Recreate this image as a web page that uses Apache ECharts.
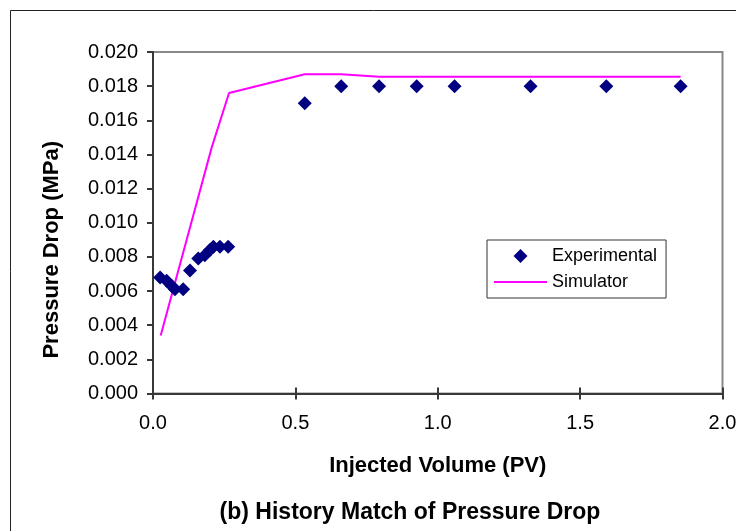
<!DOCTYPE html>
<html>
<head>
<meta charset="utf-8">
<script src="https://cdn.jsdelivr.net/npm/echarts@6/dist/echarts.min.js"></script>
<style>html,body{margin:0;padding:0;background:#fff}#c{width:736px;height:531px}</style>
</head>
<body>
<div id="c"></div>
<script>
// Data
const expX = [0.025, 0.048, 0.066, 0.077, 0.106, 0.130, 0.159, 0.182, 0.200, 0.212, 0.235, 0.264, 0.533, 0.661, 0.794, 0.926, 1.059, 1.326, 1.592, 1.853];
const expY = [0.0068, 0.0066, 0.0063, 0.0061, 0.0061, 0.0072, 0.0079, 0.0081, 0.0084, 0.0086, 0.0086, 0.0086, 0.0170, 0.0180, 0.0180, 0.0180, 0.0180, 0.0180, 0.0180, 0.0180];
const simX = [0.027, 0.206, 0.267, 0.533, 0.661, 0.794, 0.926, 1.059, 1.326, 1.592, 1.853];
const simY = [0.0034, 0.0144, 0.0176, 0.0187, 0.0187, 0.01855, 0.01855, 0.01855, 0.01855, 0.01855, 0.01855];
const xTicks = [0.0, 0.5, 1.0, 1.5, 2.0];
const yTicks = [0.000, 0.002, 0.004, 0.006, 0.008, 0.010, 0.012, 0.014, 0.016, 0.018, 0.020];
const seriesNames = ['Experimental', 'Simulator'];
const xTitle = 'Injected Volume (PV)';
const yTitle = 'Pressure Drop (MPa)';
const chartTitle = '(b) History Match of Pressure Drop';

const font = 'Arial, "Liberation Sans", sans-serif';
const chart = echarts.init(document.getElementById('c'), null, {renderer: 'canvas'});
const axisCol = '#383838';
chart.setOption({
  animation: false,
  backgroundColor: '#fff',
  title: {
    text: chartTitle,
    left: 405, top: 496, textAlign: 'center',
    textStyle: {fontFamily: font, fontWeight: 'bold', fontSize: 23, color: '#000'}
  },
  graphic: [{
    type: 'rect', silent: true, z: 0,
    shape: {x: 10.5, y: 10.5, width: 800, height: 600},
    style: {fill: null, stroke: '#222', lineWidth: 1}
  }],
  grid: {
    left: 153, right: 13.5, top: 52, bottom: 137.5,
    outerBoundsMode: 'none', containLabel: false,
    show: true, borderColor: '#888', borderWidth: 2, backgroundColor: 'transparent'
  },
  legend: {
    orient: 'vertical', left: 487, top: 240,
    padding: [7, 9, 7, 7], itemGap: 8,
    itemWidth: 53, itemHeight: 14, symbolKeepAspect: true,
    borderColor: '#333', borderWidth: 1, backgroundColor: '#fff',
    textStyle: {fontFamily: font, fontSize: 18, color: '#000'},
    data: [
      {name: seriesNames[0], icon: 'path://M0,7L7,0L14,7L7,14Z', itemStyle: {color: '#000080', opacity: 1}},
      {name: seriesNames[1], icon: 'path://M0,0H53V2H0Z', itemStyle: {color: '#ff00ff', opacity: 1}}
    ]
  },
  xAxis: [{
    type: 'value', min: xTicks[0], max: xTicks[xTicks.length - 1], interval: 0.5,
    name: xTitle, nameLocation: 'middle', nameGap: 61,
    nameTextStyle: {fontFamily: font, fontWeight: 'bold', fontSize: 22, color: '#000'},
    axisLine: {show: true, onZero: false, lineStyle: {color: axisCol, width: 2}},
    axisTick: {show: true, length: 6, lineStyle: {color: axisCol, width: 2}},
    axisLabel: {margin: 20, fontFamily: font, fontSize: 20, color: '#000', formatter: v => v.toFixed(1)},
    splitLine: {show: false}
  }, {
    type: 'value', min: xTicks[0], max: xTicks[xTicks.length - 1], interval: 0.5,
    position: 'bottom',
    axisLine: {show: false},
    axisTick: {show: true, inside: true, length: 6, lineStyle: {color: axisCol, width: 2}},
    axisLabel: {show: false},
    splitLine: {show: false}
  }],
  yAxis: {
    type: 'value', min: yTicks[0], max: yTicks[yTicks.length - 1], interval: 0.002,
    name: yTitle, nameLocation: 'middle', nameGap: 90, nameRotate: 90,
    nameTextStyle: {fontFamily: font, fontWeight: 'bold', fontSize: 22, color: '#000', padding: [0, 54, 0, 0]},
    axisLine: {show: true, onZero: false, lineStyle: {color: axisCol, width: 2}},
    axisTick: {show: true, length: 6, lineStyle: {color: axisCol, width: 2}},
    axisLabel: {margin: 15, fontFamily: font, fontSize: 20, color: '#000', formatter: v => v.toFixed(3)},
    splitLine: {show: false}
  },
  series: [{
    name: seriesNames[0], type: 'scatter', symbol: 'diamond', symbolSize: 14,
    itemStyle: {color: '#000080', opacity: 1}, z: 3,
    data: expX.map((x, i) => [x, expY[i]])
  }, {
    name: seriesNames[1], type: 'line', showSymbol: false, symbol: 'none',
    lineStyle: {color: '#ff00ff', width: 2}, itemStyle: {color: '#ff00ff'}, z: 2,
    data: simX.map((x, i) => [x, simY[i]])
  }]
});
</script>
</body>
</html>
